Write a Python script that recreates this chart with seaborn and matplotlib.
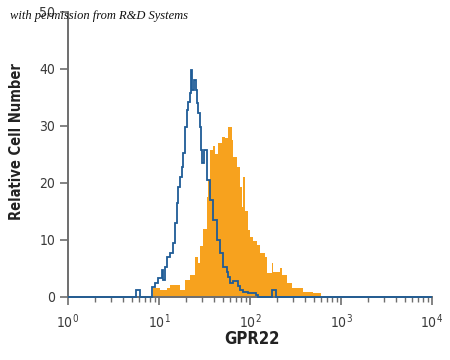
import numpy as np
import matplotlib
matplotlib.use("Agg")
import matplotlib.pyplot as plt
from matplotlib.ticker import LogLocator, LogFormatterSciNotation, NullFormatter
import seaborn as sns

# isotype control (blue outline): bin edges in log10 units and counts per bin
iso_edges = [0.0, 0.747, 0.791, 0.923, 0.956, 0.992, 1.030, 1.047, 1.066, 1.085,
             1.121, 1.157, 1.176, 1.195, 1.212, 1.231, 1.249, 1.267, 1.286, 1.304,
             1.322, 1.341, 1.352, 1.366, 1.385, 1.403, 1.414, 1.432, 1.451, 1.462,
             1.476, 1.495, 1.531, 1.560, 1.593, 1.637, 1.670, 1.703, 1.747, 1.758,
             1.780, 1.813, 1.868, 1.890, 1.923, 1.978, 2.066, 2.088, 2.242, 2.286, 4.0]
iso_counts = [0, 1.2, 0, 1.8, 2.4, 3.3, 4.7, 3.0, 5.3, 7.0,
              7.7, 9.5, 13.0, 16.5, 19.3, 21.0, 22.8, 25.3, 29.8, 32.8,
              34.2, 35.8, 39.8, 36.3, 38.0, 36.3, 34.0, 32.3, 29.8, 25.8,
              23.5, 25.8, 20.5, 17.0, 13.5, 10.0, 7.7, 5.3, 4.4, 3.5,
              2.5, 2.8, 2.0, 1.2, 0.9, 0.7, 0.3, 0, 1.2, 0]

# GPR22 stained cells (orange filled)
gpr_edges = [0.934, 1.011, 1.088, 1.121, 1.231, 1.286, 1.341, 1.396, 1.432, 1.451,
             1.487, 1.524, 1.542, 1.560, 1.597, 1.615, 1.652, 1.689, 1.725, 1.762,
             1.799, 1.816, 1.854, 1.890, 1.909, 1.926, 1.945, 1.981, 2.000, 2.036,
             2.074, 2.110, 2.165, 2.187, 2.242, 2.258, 2.330, 2.352, 2.407, 2.462,
             2.582, 2.692, 2.780]
gpr_counts = [1.6, 1.2, 1.6, 2.1, 1.2, 3.0, 3.8, 7.0, 6.0, 9.0,
              12.0, 17.5, 20.5, 25.8, 26.5, 25.0, 27.0, 28.0, 27.8, 29.8,
              27.5, 24.5, 22.8, 19.3, 15.8, 21.0, 15.0, 11.7, 10.5, 9.8,
              9.2, 7.7, 7.0, 4.2, 6.0, 4.4, 5.0, 3.9, 2.5, 1.6,
              0.9, 0.7]

sns.set_style("ticks")
plt.rcParams['font.family'] = ['DejaVu Sans']
plt.rcParams['font.stretch'] = 'condensed'
plt.rcParams['mathtext.default'] = 'regular'

axis_gray = "#6e6e6e"
fig = plt.figure(figsize=(4.5, 3.6), dpi=100)
ax = fig.add_axes([0.151, 0.175, 0.809, 0.792])

ax.stairs(gpr_counts, 10 ** np.array(gpr_edges), fill=True, color="#f7a21e", lw=0)
ax.stairs(iso_counts, 10 ** np.array(iso_edges), color="#1f5c96", lw=1.3,
          clip_on=False, zorder=3)

ax.set_xscale("log")
ax.set_xlim(1, 1e4)
ax.set_ylim(0, 50)
ax.set_yticks(range(0, 51, 10))
ax.xaxis.set_major_locator(LogLocator(base=10, numticks=10))
ax.xaxis.set_major_formatter(LogFormatterSciNotation())
ax.xaxis.set_minor_locator(LogLocator(base=10, subs=np.arange(2, 10), numticks=20))
ax.xaxis.set_minor_formatter(NullFormatter())

sns.despine(ax=ax)
for s in ("left", "bottom"):
    ax.spines[s].set_color(axis_gray)
    ax.spines[s].set_linewidth(1.4)
ax.tick_params(which="major", length=6, width=1.2, color=axis_gray,
               labelsize=10, labelcolor="#3a3a3a", pad=3)
ax.tick_params(axis="x", which="major", pad=5)
ax.tick_params(which="minor", length=3.6, width=1.0, color=axis_gray)

ax.set_xlabel("GPR22", fontsize=12, fontweight="bold", color="#222222")
ax.xaxis.set_label_coords(0.505, -0.115)
ax.set_ylabel("Relative Cell Number", fontsize=10.5, fontweight="bold", color="#222222")
ax.yaxis.set_label_coords(-0.12, 0.545)

fig.text(0.022, 0.955, "with permission from R&D Systems", fontsize=9,
         family=["Liberation Serif", "DejaVu Serif"], style="italic", stretch="normal",
         color="#111111", va="center", ha="left")

fig.savefig("out.png", dpi=100)
